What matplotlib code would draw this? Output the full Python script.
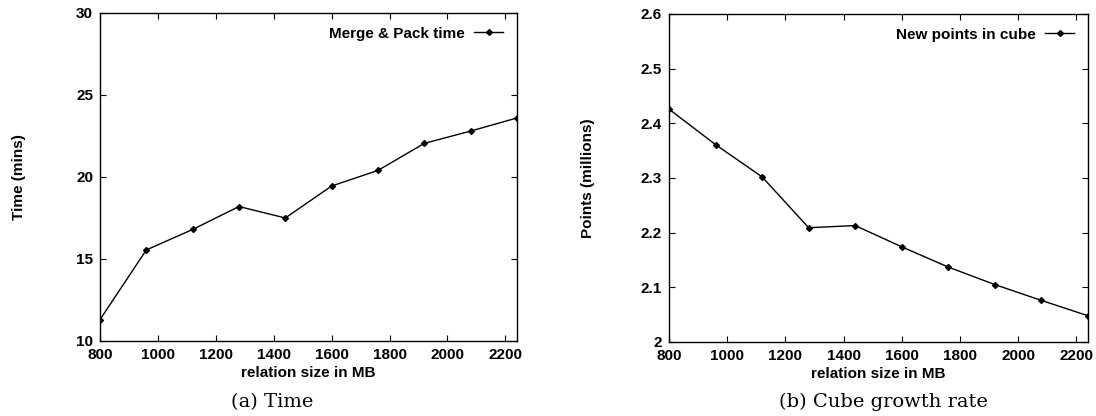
import numpy as np
import matplotlib.pyplot as plt
from matplotlib.ticker import FuncFormatter

# datos
size_mb = [800, 960, 1120, 1280, 1440, 1600, 1760, 1920, 2080, 2240]
merge_time = [11.3, 15.55, 16.8, 18.2, 17.5, 19.45, 20.4, 22.05, 22.8, 23.6]
cube_points = [2.426, 2.361, 2.302, 2.209, 2.213, 2.174, 2.137, 2.105, 2.076, 2.048]

x_ticks = [800, 1000, 1200, 1400, 1600, 1800, 2000, 2200]
time_ticks = [10, 15, 20, 25, 30]
points_ticks = [2.0, 2.1, 2.2, 2.3, 2.4, 2.5, 2.6]

plt.rcParams['font.family'] = ['Liberation Sans', 'DejaVu Sans']
plt.rcParams['font.weight'] = 'bold'

fig = plt.figure(figsize=(10.96, 4.16), dpi=100)
ax1 = fig.add_axes([0.0912, 0.1803, 0.3805, 0.7885])
ax2 = fig.add_axes([0.6104, 0.1779, 0.3823, 0.7885])


def estilo(ax, y, yticks, ylabel, leyenda):
	ax.plot(size_mb, y, color='black', lw=1.0, marker='D', ms=3, label=leyenda)
	ax.set_xlim(800, 2240)
	ax.set_ylim(yticks[0], yticks[-1])
	ax.set_xticks(x_ticks)
	ax.set_yticks(yticks)
	ax.yaxis.set_major_formatter(FuncFormatter(lambda v, p: '%g' % round(v, 3)))
	ax.tick_params(direction='in', top=True, right=True, length=4, width=0.8,
		labelsize=11, pad=5, colors='black')
	for s in ax.spines.values():
		s.set_linewidth(1.0)
	ax.set_xlabel('relation size in MB', fontsize=11, fontweight='bold', labelpad=3)
	ax.set_ylabel(ylabel, fontsize=11, fontweight='bold')
	ax.yaxis.set_label_coords(-0.177, 0.5)
	ax.legend(loc='upper right', frameon=False, markerfirst=False, fontsize=11,
		handlelength=1.9, handletextpad=0.6, borderaxespad=0.5)


estilo(ax1, merge_time, time_ticks, 'Time (mins)', 'Merge & Pack time')
estilo(ax2, cube_points, points_ticks, 'Points (millions)', 'New points in cube')

fig.text(0.248, 0.033, '(a) Time', ha='center', va='center', fontsize=14,
	family='DejaVu Serif', fontweight='normal')
fig.text(0.806, 0.033, '(b) Cube growth rate', ha='center', va='center', fontsize=14,
	family='DejaVu Serif', fontweight='normal')

fig.savefig('out.png', dpi=100)
